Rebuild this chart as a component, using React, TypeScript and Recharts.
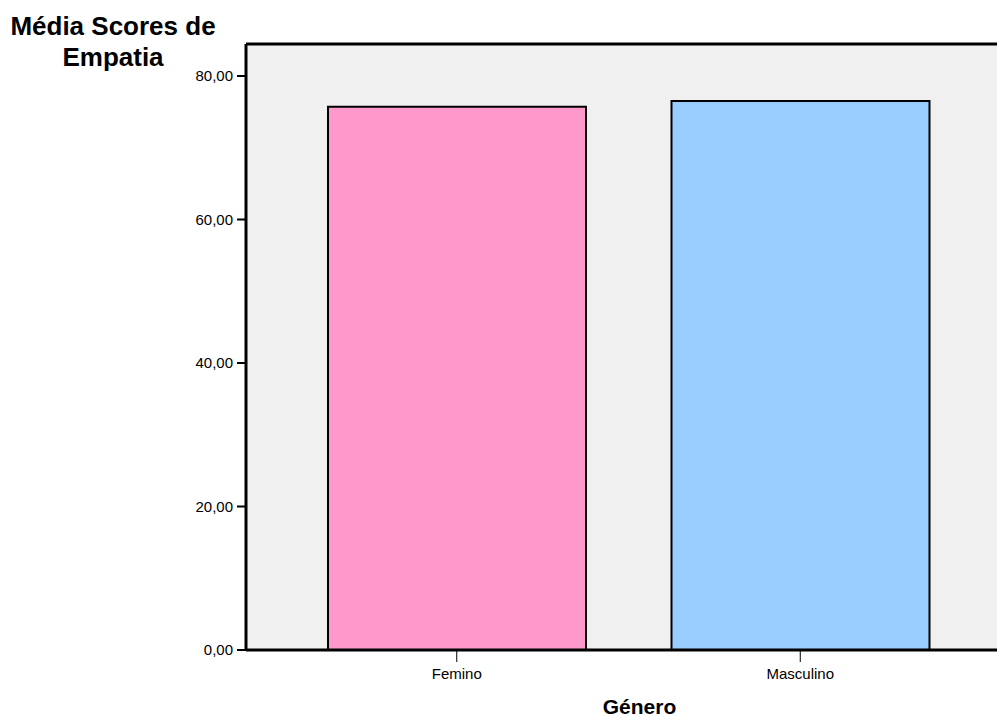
import React from 'react';
import { BarChart, Bar, XAxis, YAxis, CartesianGrid, Cell, ReferenceLine, Label } from 'recharts';

const categories = ['Femino', 'Masculino'];
const meanScores = [75.7, 76.5];
const barColors = ['#ff99cc', '#99ccff'];
const yTicks = [0, 20, 40, 60, 80];
const yMax = 84.46;

const data = categories.map((genero, i) => ({ genero, media: meanScores[i] }));

const FONT = '"Liberation Sans", Arial, sans-serif';

const formatTick = (v: number) => v.toFixed(2).replace('.', ',');

const App: React.FC = () => {
    return (
        <div style={{ position: 'absolute', left: 0, top: 0, width: 997, height: 718, overflow: 'hidden', background: '#fff', fontFamily: FONT }}>
            <div
                style={{
                    position: 'absolute',
                    left: 0,
                    top: 11,
                    width: 226,
                    textAlign: 'center',
                    fontWeight: 'bold',
                    fontSize: 26,
                    lineHeight: '31px',
                    color: '#000',
                }}
            >
                Média Scores de
                <br />
                Empatia
            </div>
            <BarChart
                width={1011}
                height={718}
                data={data}
                margin={{ top: 44, right: 0, bottom: 0, left: 186 }}
            >
                <CartesianGrid fill="#f0f0f0" stroke="none" horizontal={false} vertical={false} />
                <XAxis
                    dataKey="genero"
                    height={68}
                    padding={{ left: 39, right: 39 }}
                    axisLine={{ stroke: '#000', strokeWidth: 3 }}
                    tickLine={{ stroke: '#000', strokeWidth: 1 }}
                    tickSize={12}
                    tickMargin={6}
                    tick={{ fill: '#000', fontSize: 15, fontFamily: FONT }}
                >
                    <Label
                        value="Género"
                        position="insideBottom"
                        offset={4}
                        dx={11}
                        style={{ fill: '#000', fontSize: 21, fontWeight: 'bold', fontFamily: FONT }}
                    />
                </XAxis>
                <YAxis
                    width={60}
                    domain={[0, yMax]}
                    ticks={yTicks}
                    tickFormatter={formatTick}
                    axisLine={{ stroke: '#000', strokeWidth: 3 }}
                    tickLine={{ stroke: '#000', strokeWidth: 2 }}
                    tickSize={9}
                    tickMargin={4}
                    tick={{ fill: '#000', fontSize: 15, fontFamily: FONT }}
                />
                <ReferenceLine y={yMax} stroke="#000" strokeWidth={3} />
                <Bar dataKey="media" barSize={258} stroke="#000" strokeWidth={2} isAnimationActive={false}>
                    {data.map((d, i) => (
                        <Cell key={d.genero} fill={barColors[i]} />
                    ))}
                </Bar>
            </BarChart>
        </div>
    );
};

export default App;
